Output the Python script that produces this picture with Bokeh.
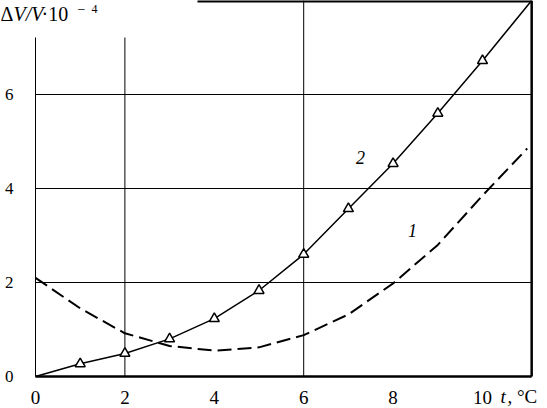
from bokeh.plotting import figure
from bokeh.models import Range1d, FixedTicker, Label
from bokeh.embed import file_html
from bokeh.resources import INLINE

# data
t_curve2 = [0, 1, 2, 3, 4, 5, 6, 7, 8, 9, 10, 11.1]
dv_curve2 = [0, 0.27, 0.49, 0.80, 1.23, 1.83, 2.60, 3.57, 4.53, 5.60, 6.72, 8.0]
t_markers = [1, 2, 3, 4, 5, 6, 7, 8, 9, 10]
dv_markers = [0.27, 0.49, 0.80, 1.23, 1.83, 2.60, 3.57, 4.53, 5.60, 6.72]
t_curve1 = [0, 1, 2, 3, 4, 5, 6, 7, 8, 9, 10, 11]
dv_curve1 = [2.1, 1.45, 0.92, 0.65, 0.55, 0.62, 0.88, 1.32, 1.98, 2.8, 3.85, 4.85]
x_ticks = [0, 2, 4, 6, 8, 10]
y_ticks = [0, 2, 4, 6]

FONT = "Liberation Serif"
PXX, PXY = 44.7, 47.0
OX, OY = 35, 376  # pixel of data origin

def X(px):
    return (px - OX) / PXX

def Y(py):
    return (OY - py) / PXY

p = figure(width=547, height=408, output_backend="svg", toolbar_location=None,
           x_range=Range1d(X(0), X(547)), y_range=Range1d(Y(408), Y(0)),
           min_border_left=0, min_border_right=0, min_border_top=0, min_border_bottom=0)
p.styles = {"position": "absolute", "left": "0px", "top": "0px"}
p.outline_line_color = None
p.background_fill_color = "white"
p.border_fill_color = "white"
p.xgrid.visible = False
p.ygrid.visible = False

for ax, ticks, st, fs in ((p.xaxis[0], x_ticks, 14, "19px"), (p.yaxis[0], y_ticks, 22, "17px")):
    ax.ticker = FixedTicker(ticks=ticks)
    ax.fixed_location = 0
    ax.axis_line_color = None
    ax.major_tick_line_color = None
    ax.minor_tick_line_color = None
    ax.major_tick_out = 0
    ax.major_tick_in = 0
    ax.minor_tick_out = 0
    ax.minor_tick_in = 0
    ax.major_label_text_font = FONT
    ax.major_label_text_font_size = fs
    ax.major_label_text_color = "black"
    ax.major_label_standoff = st

# grid / frame
for yv in (2, 4, 6):
    p.segment(x0=[0], y0=[yv], x1=[11.1], y1=[yv], line_color="black", line_width=1)
p.segment(x0=[6], y0=[0], x1=[6], y1=[8.0], line_color="black", line_width=1)
p.segment(x0=[2, 0], y0=[0, 0], x1=[2, 0], y1=[Y(37), Y(37)], line_color="black", line_width=1)
p.segment(x0=[0], y0=[0], x1=[11.1], y1=[0], line_color="black", line_width=2.5)
p.segment(x0=[11.1], y0=[0], x1=[11.1], y1=[8.0], line_color="black", line_width=2.5)
p.segment(x0=[X(197)], y0=[8.0], x1=[11.1], y1=[8.0], line_color="black", line_width=4)

# curves
p.line(t_curve1, dv_curve1, line_color="black", line_width=2, line_dash="14 6")
p.line(t_curve2, dv_curve2, line_color="black", line_width=1.5)
p.scatter(t_markers, dv_markers, marker="triangle", size=10, fill_color="white",
          line_color="black", line_width=1.5)

def lab(text, px, py, size="19px", style="normal", align="left"):
    p.add_layout(Label(x=X(px), y=Y(py), text=text, text_font=FONT, text_font_size=size,
                       text_font_style=style, text_align=align, text_baseline="middle",
                       text_color="black"))

lab("\u0394", 0, 13.5, "20px")
lab("V/V", 13, 13.5, "20px", "italic")
lab("\u00b710", 41, 13.5, "20px")
lab("\u2212", 77, 8.5, "14px")
lab("4", 91, 8, "12px")
lab("t", 500, 396, "19px", "italic")
lab(", \u00b0C", 507, 396, "19px")
lab("2", 360, 157, "18px", "italic", "center")
lab("1", 412, 230, "18px", "italic", "center")

open("out.html", "w").write(file_html(p, INLINE))
